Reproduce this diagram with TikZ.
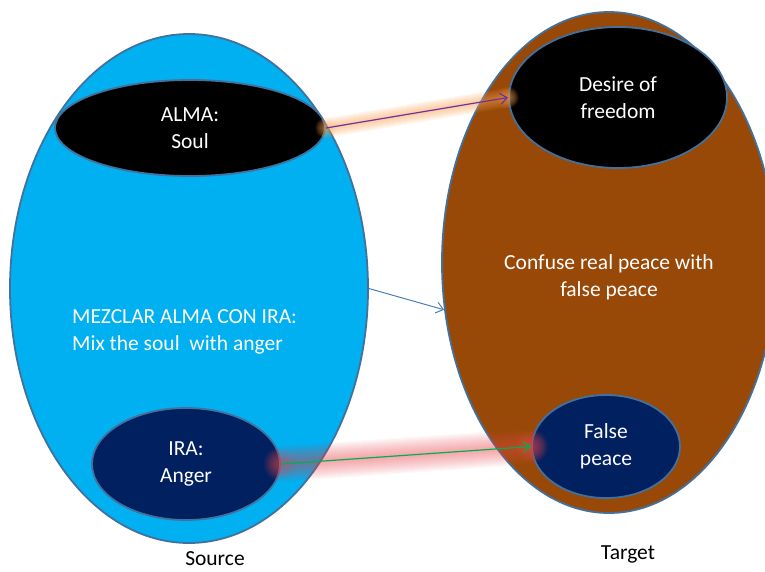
\documentclass[tikz,border=0pt]{standalone}
\usepackage{fontspec}
\setmainfont{Carlito}
\usetikzlibrary{shapes.geometric,arrows.meta}

\definecolor{rimblue}{HTML}{41719C}
\definecolor{skyfill}{HTML}{00B0F0}
\definecolor{rustfill}{HTML}{984807}
\definecolor{navyfill}{HTML}{002060}
\definecolor{linkpurple}{HTML}{7030A0}
\definecolor{linkblue}{HTML}{4A7EBB}
\definecolor{linkgreen}{HTML}{00B050}
\definecolor{glowamber}{HTML}{F7A050}
\definecolor{glowred}{HTML}{E84850}

\newcommand\diagfont{\fontsize{21.5}{27}\selectfont}

\begin{document}
\begin{tikzpicture}[x=1pt,y=-1pt,
  blob/.style={ellipse,draw=rimblue,line width=1.8pt,inner sep=0pt,
    text=white,font=\diagfont,align=center},
  caption/.style={inner sep=0pt,text=white,font=\diagfont},
  tip/.style={-{Straight Barb[length=7pt,width=11pt]}},
]
\useasboundingbox (0,0) rectangle (765,571);

% the two domains
\node[blob,fill=rustfill,minimum width=334pt,minimum height=501pt] (target) at (609,262.5) {};
\node[blob,fill=skyfill,minimum width=358pt,minimum height=509pt] (source) at (189,288.5) {};

% inner concepts
\node[blob,fill=black,minimum width=270pt,minimum height=96pt] (alma) at (190,128) {ALMA:\\Soul};
\node[blob,fill=navyfill,minimum width=188pt,minimum height=112pt] (ira) at (186,464) {IRA:\\Anger};
\node[blob,fill=black,minimum width=218pt,minimum height=141pt] (desire) at (618,97.5) {Desire of\\freedom};
\node[blob,fill=navyfill,minimum width=148pt,minimum height=103pt] (peace) at (606,446.5) {False\\peace};

% domain texts (base anchor sits on the last line)
\node[caption,anchor=base west,align=left] (mix) at (72,350) {MEZCLAR ALMA CON IRA:\\Mix the soul\ \ with anger};
\node[caption,anchor=base,align=center] (confuse) at (609,296) {Confuse real peace with\\false peace};
\node[caption,anchor=base,text=black] (srclabel) at (215,565.5) {Source};
\node[caption,anchor=base,text=black] (tgtlabel) at (628,559) {Target};

% soft glows behind the mapping arrows
\foreach \w in {2,4,...,20}
  \draw[glowamber,line width=\w pt,opacity=0.07,line cap=round] (alma.east) -- (desire.west);
\foreach \r in {3,5,...,11}{
  \fill[glowamber,opacity=0.07] (desire.west) circle (\r pt);
  \fill[glowamber,opacity=0.05] (alma.east) circle (\r pt);
}
\foreach \w in {2,4,...,36}
  \draw[glowred,line width=\w pt,opacity=0.035,line cap=round] (ira.east) -- (peace.west);
\foreach \r in {3,5,...,15}{
  \fill[glowred,opacity=0.07] (peace.west) circle (\r pt);
  \fill[glowred,opacity=0.05] (ira.east) circle (\r pt);
}

% mapping arrows
\draw[linkpurple,line width=1.2pt,tip] (alma.east) -- (desire.west);
\draw[linkblue,line width=1pt,tip] (source.east) -- (target.196);
\draw[linkgreen,line width=1.2pt,tip] (ira.east) -- (peace.west);
\end{tikzpicture}
\end{document}
